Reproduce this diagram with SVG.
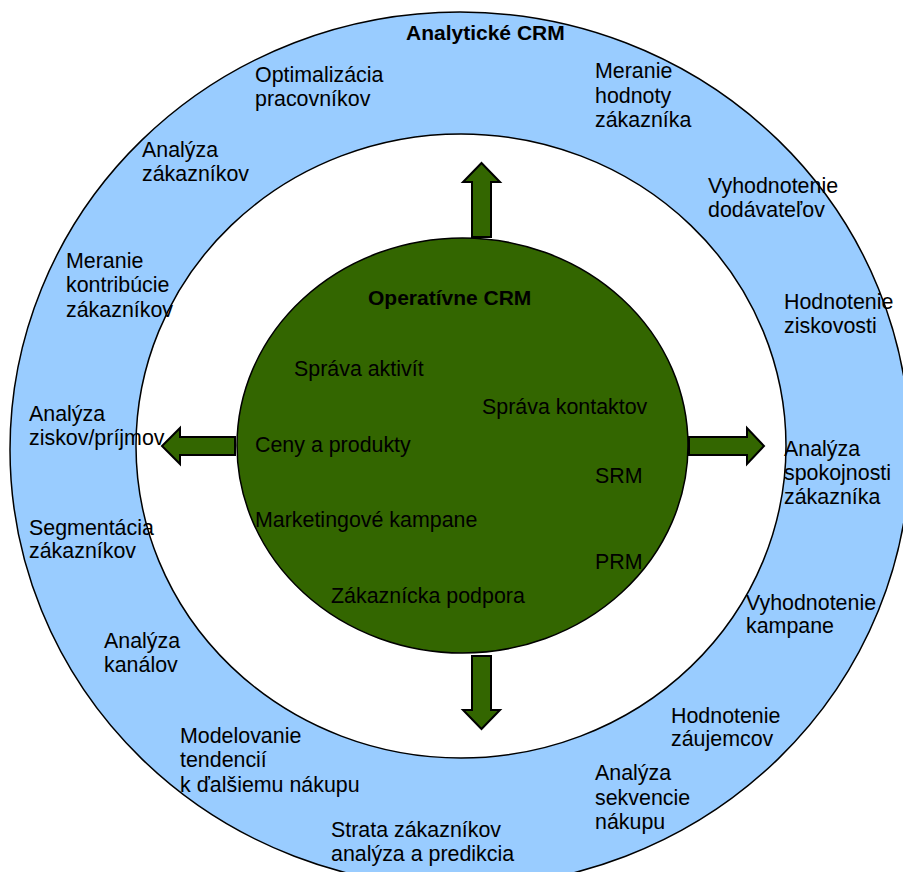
<svg xmlns="http://www.w3.org/2000/svg" width="903" height="872" viewBox="0 0 903 872">
  <style>
    text { font-family: "Liberation Sans", Arial, sans-serif; font-size: 21.4px; fill: #000; }
    .title { font-weight: bold; font-size: 21px; }
    .ring { stroke: #000; stroke-width: 1.5; }
    .arrow { fill: #336600; stroke: #000; stroke-width: 2; stroke-linejoin: miter; }
  </style>

  <rect width="903" height="872" fill="#fff"/>

  <!-- Analytical CRM ring -->
  <g id="analyticke-crm">
    <ellipse class="ring" cx="460" cy="449.5" rx="450" ry="437.5" fill="#99ccff"/>
    <ellipse class="ring" cx="461" cy="446" rx="325" ry="312" fill="#fff"/>
    <text class="title" x="406" y="40">Analytické CRM</text>
  </g>

  <!-- Operational CRM core -->
  <g id="operativne-crm">
    <ellipse class="ring" cx="462.5" cy="445.5" rx="225.5" ry="207.5" fill="#336600"/>
    <text class="title" x="368" y="305">Operatívne CRM</text>
    <text x="294" y="376">Správa aktivít</text>
    <text x="482" y="414">Správa kontaktov</text>
    <text x="255" y="452">Ceny a produkty</text>
    <text x="595" y="483">SRM</text>
    <text x="255" y="527">Marketingové kampane</text>
    <text x="595" y="569">PRM</text>
    <text x="331" y="603">Zákaznícka podpora</text>
  </g>

  <!-- block arrows pointing outwards -->
  <g id="connectors">
    <polygon class="arrow" points="472,237 472,182 463,182 481.5,163 500,182 491,182 491,237"/>
    <polygon class="arrow" points="472,656 491,656 491,710 500,710 481.5,729 463,710 472,710"/>
    <polygon class="arrow" points="235,437 180,437 180,428 162,446 180,464 180,455 235,455"/>
    <polygon class="arrow" points="689,437 747,437 747,428 764,446 747,464 747,455 689,455"/>
  </g>

  <!-- analytical functions around the ring -->
  <g id="optimalizacia"><text x="255" y="82">Optimalizácia</text><text x="255" y="106">pracovníkov</text></g>
  <g id="meranie-hodnoty"><text x="595" y="78">Meranie</text><text x="595" y="102.5">hodnoty</text><text x="595" y="127">zákazníka</text></g>
  <g id="analyza-zakaznikov"><text x="142" y="157">Analýza</text><text x="142" y="181">zákazníkov</text></g>
  <g id="vyhodnotenie-dodavatelov"><text x="708" y="193">Vyhodnotenie</text><text x="708" y="217">dodávateľov</text></g>
  <g id="meranie-kontribucie"><text x="66" y="268">Meranie</text><text x="66" y="292">kontribúcie</text><text x="66" y="317">zákazníkov</text></g>
  <g id="hodnotenie-ziskovosti"><text x="784" y="309">Hodnotenie</text><text x="784" y="333">ziskovosti</text></g>
  <g id="analyza-ziskov"><text x="29" y="421">Analýza</text><text x="29" y="445">ziskov/príjmov</text></g>
  <g id="analyza-spokojnosti"><text x="784" y="456">Analýza</text><text x="784" y="480">spokojnosti</text><text x="784" y="504">zákazníka</text></g>
  <g id="segmentacia"><text x="29" y="535">Segmentácia</text><text x="29" y="558">zákazníkov</text></g>
  <g id="vyhodnotenie-kampane"><text x="746" y="610">Vyhodnotenie</text><text x="746" y="633">kampane</text></g>
  <g id="analyza-kanalov"><text x="104" y="648">Analýza</text><text x="104" y="672">kanálov</text></g>
  <g id="hodnotenie-zaujemcov"><text x="671" y="723">Hodnotenie</text><text x="671" y="746">záujemcov</text></g>
  <g id="modelovanie"><text x="180" y="743">Modelovanie</text><text x="180" y="767">tendencií</text><text x="180" y="792">k ďalšiemu nákupu</text></g>
  <g id="analyza-sekvencie"><text x="595" y="780">Analýza</text><text x="595" y="805">sekvencie</text><text x="595" y="829">nákupu</text></g>
  <g id="strata-zakaznikov"><text x="331" y="837">Strata zákazníkov</text><text x="331" y="861">analýza a predikcia</text></g>
</svg>
